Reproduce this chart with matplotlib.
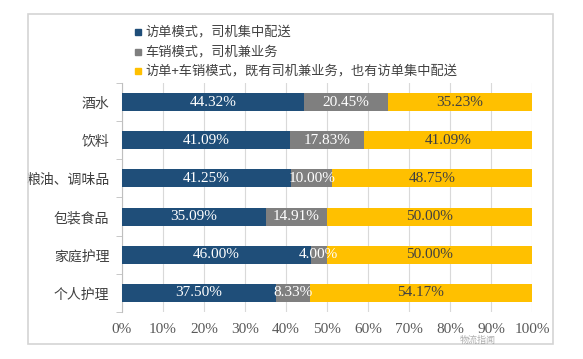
import matplotlib
matplotlib.use("Agg")
import matplotlib.pyplot as plt
from matplotlib.patches import Rectangle
import numpy as np

categories = ["酒水", "饮料", "粮油、调味品", "包装食品", "家庭护理", "个人护理"]
series_names = ["访单模式，司机集中配送", "车销模式，司机兼业务", "访单+车销模式，既有司机兼业务，也有访单集中配送"]
s1 = [44.32, 41.09, 41.25, 35.09, 46.00, 37.50]
s2 = [20.45, 17.83, 10.00, 14.91, 4.00, 8.33]
s3 = [35.23, 41.09, 48.75, 50.00, 50.00, 54.17]
xticks = [0, 10, 20, 30, 40, 50, 60, 70, 80, 90, 100]
colors = ["#1F4E79", "#7F7F7F", "#FFC000"]
label_colors = ["white", "white", "#404040"]

W, H = 583, 359
fig = plt.figure(figsize=(W / 100, H / 100), dpi=100)
cjk = ["Noto Sans CJK SC", "DejaVu Sans"]
serif = ["Liberation Serif", "DejaVu Serif"]

# outer frame
fig.add_artist(Rectangle((28 / W, 1 - 344 / H), (553 - 28) / W, (344 - 14) / H,
                         transform=fig.transFigure, fill=False, edgecolor="#d4d4d4", lw=1.2))

ax = fig.add_axes([122 / W, 1 - 312 / H, (532 - 122) / W, (312 - 83) / H])
y = np.arange(len(categories))
left = np.zeros(len(categories))
for vals, c, lc in zip([s1, s2, s3], colors, label_colors):
    vals = np.array(vals)
    ax.barh(y, vals, left=left, height=0.47, color=c, zorder=3)
    for yi, l, v in zip(y, left, vals):
        ax.text(l + v / 2, yi, f"{v:.2f}%", ha="center", va="center",
                color=lc, fontsize=11, family=serif, zorder=4)
    left = left + vals

ax.set_xlim(0, 100)
ax.set_ylim(len(categories) - 0.5, -0.5)
ax.set_xticks(xticks)
ax.set_xticklabels([f"{t}%" for t in xticks], family=serif, fontsize=11, color="#595959")
ax.tick_params(axis="x", length=0, pad=8)
ax.set_yticks(y)
ax.set_yticklabels(categories, family=cjk, fontsize=10, color="#404040")
ax.set_yticks(np.arange(-0.5, len(categories), 1), minor=True)
ax.tick_params(axis="y", which="major", length=0, pad=9)
ax.tick_params(axis="y", which="minor", length=4, color="#bfbfbf", direction="out")
ax.grid(axis="x", color="#d9d9d9", lw=0.8, zorder=0)
for s in ["top", "right", "bottom"]:
    ax.spines[s].set_visible(False)
ax.spines["left"].set_color("#bfbfbf")

# legend
ly = [32, 52, 71]
for name, c, yy in zip(series_names, colors, ly):
    fig.add_artist(Rectangle((135 / W, 1 - (yy + 3) / H), 6 / W, 6 / H,
                             transform=fig.transFigure, color=c))
    fig.text(145 / W, 1 - yy / H, name, family=cjk, fontsize=9.5, color="#404040",
             va="center", ha="left")

# watermark
fig.text(478 / W, 1 - 340 / H, "物流指闻", family=cjk, fontsize=6.5, color="#9a9a9a",
         alpha=0.8, ha="center", va="center")

fig.savefig("out.png", dpi=100, facecolor="white")
